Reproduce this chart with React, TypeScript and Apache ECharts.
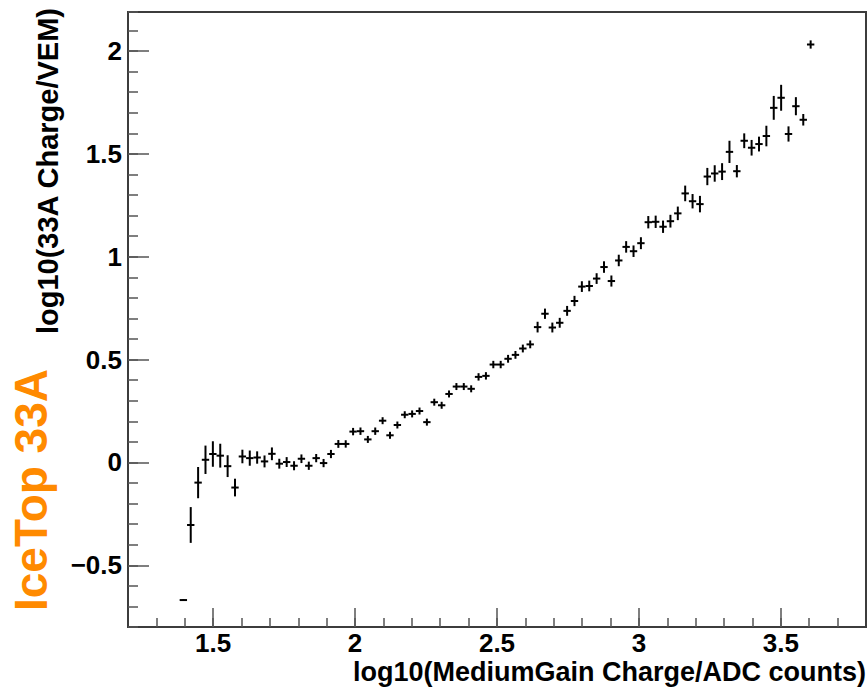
import React, { useEffect, useRef } from "react";
import * as echarts from "echarts";

// Histogram bin centres (bin width 0.026) in log10(MediumGain Charge/ADC counts)
const binCenters = [
  1.395, 1.421, 1.447, 1.473, 1.499, 1.525, 1.551, 1.577, 1.603, 1.629,
  1.655, 1.681, 1.707, 1.733, 1.759, 1.785, 1.811, 1.837, 1.863, 1.889,
  1.915, 1.941, 1.967, 1.993, 2.019, 2.045, 2.071, 2.097, 2.123, 2.149,
  2.175, 2.201, 2.227, 2.253, 2.279, 2.305, 2.331, 2.357, 2.383, 2.409,
  2.435, 2.461, 2.487, 2.513, 2.539, 2.565, 2.591, 2.617, 2.643, 2.669,
  2.695, 2.721, 2.747, 2.773, 2.799, 2.825, 2.851, 2.877, 2.903, 2.929,
  2.955, 2.981, 3.007, 3.033, 3.059, 3.085, 3.111, 3.137, 3.163, 3.189,
  3.215, 3.241, 3.267, 3.293, 3.319, 3.345, 3.371, 3.397, 3.423, 3.449,
  3.475, 3.501, 3.527, 3.553, 3.579, 3.605,
];
const BIN_HALF_WIDTH = 0.013;

// log10(33A Charge/VEM) mean per bin
const meanValues = [
  -0.669, -0.304, -0.098, 0.013, 0.041, 0.033, -0.018, -0.122, 0.029, 0.021,
  0.024, 0.005, 0.042, -0.006, 0.002, -0.016, 0.018, -0.016, 0.021, -0.003,
  0.041, 0.09, 0.09, 0.15, 0.152, 0.112, 0.152, 0.203, 0.132, 0.182,
  0.232, 0.236, 0.25, 0.196, 0.293, 0.278, 0.333, 0.369, 0.369, 0.358,
  0.416, 0.421, 0.476, 0.476, 0.504, 0.523, 0.554, 0.574, 0.658, 0.723,
  0.656, 0.679, 0.737, 0.785, 0.855, 0.858, 0.894, 0.95, 0.882, 0.982,
  1.048, 1.027, 1.066, 1.168, 1.17, 1.146, 1.173, 1.211, 1.308, 1.27,
  1.256, 1.39, 1.405, 1.414, 1.51, 1.416, 1.564, 1.53, 1.548, 1.587,
  1.724, 1.773, 1.597, 1.732, 1.666, 2.032,
];

// error on the mean per bin
const meanErrors = [
  0.004, 0.087, 0.076, 0.069, 0.062, 0.058, 0.053, 0.043, 0.033, 0.037,
  0.03, 0.029, 0.031, 0.024, 0.024, 0.022, 0.021, 0.02, 0.02, 0.02,
  0.02, 0.019, 0.018, 0.018, 0.018, 0.017, 0.018, 0.017, 0.017, 0.017,
  0.017, 0.017, 0.017, 0.017, 0.017, 0.017, 0.017, 0.017, 0.017, 0.017,
  0.018, 0.018, 0.018, 0.018, 0.019, 0.019, 0.019, 0.019, 0.026, 0.025,
  0.024, 0.024, 0.024, 0.025, 0.026, 0.026, 0.026, 0.028, 0.027, 0.028,
  0.028, 0.028, 0.029, 0.03, 0.03, 0.03, 0.031, 0.033, 0.038, 0.035,
  0.04, 0.042, 0.04, 0.041, 0.054, 0.03, 0.036, 0.038, 0.036, 0.05,
  0.058, 0.063, 0.037, 0.044, 0.028, 0.02,
];

const xMajorTicks = [1.5, 2, 2.5, 3, 3.5];
const yMajorTicks = [-0.5, 0, 0.5, 1, 1.5, 2];

const xTitle = "log10(MediumGain Charge/ADC counts)";
const yTitle = "log10(33A Charge/VEM)";
const sideLabel = "IceTop 33A";

const FONT = "'Liberation Sans', Arial, Helvetica, sans-serif";

const fmt = (v: number) => (v < 0 ? "\u2212" + String(Math.abs(v)) : String(v));
const isMajor = (v: number, majors: number[]) =>
  majors.some((m) => Math.abs(m - v) < 1e-6);

export default function App() {
  const ref = useRef<HTMLDivElement>(null);

  useEffect(() => {
    if (!ref.current) return;
    const chart = echarts.init(ref.current, undefined, { renderer: "svg" });

    const data = binCenters.map((x, i) => [x, meanValues[i], meanErrors[i]]);

    const tickStyle = { color: "#555", width: 1.5 };
    const labelStyle = {
      color: "#000",
      fontSize: 26,
      fontWeight: "bold",
      fontFamily: FONT,
    };

    const option: any = {
      animation: false,
      backgroundColor: "#ffffff",
      grid: {
        left: 128,
        right: 2,
        top: 12,
        bottom: 60,
        show: true,
        borderColor: "#3c3c3c",
        borderWidth: 2,
        backgroundColor: "transparent",
      },
      xAxis: [
        {
          type: "value",
          position: "bottom",
          min: 1.2,
          max: 3.8,
          interval: 0.1,
          axisLine: { show: false, onZero: false },
          axisTick: { show: true, inside: true, length: 9, lineStyle: tickStyle },
          axisLabel: {
            show: true,
            margin: 3,
            hideOverlap: false,
            showMinLabel: false,
            showMaxLabel: false,
            formatter: (v: number) => (isMajor(v, xMajorTicks) ? fmt(Math.round(v * 10) / 10) : ""),
            ...labelStyle,
          },
          splitLine: { show: false },
        },
        {
          type: "value",
          position: "bottom",
          min: 1.2,
          max: 3.8,
          axisLine: { show: false, onZero: false },
          axisTick: {
            show: true,
            inside: true,
            length: 19,
            customValues: xMajorTicks,
            lineStyle: tickStyle,
          },
          axisLabel: { show: false },
          splitLine: { show: false },
        },
      ],
      yAxis: [
        {
          type: "value",
          position: "left",
          min: -0.8,
          max: 2.19,
          interval: 0.1,
          axisLine: { show: false, onZero: false },
          axisTick: { show: true, inside: true, length: 10, lineStyle: tickStyle },
          axisLabel: { show: false },
          splitLine: { show: false },
        },
        {
          type: "value",
          position: "left",
          min: -0.8,
          max: 2.19,
          axisLine: { show: false, onZero: false },
          axisTick: {
            show: true,
            inside: true,
            length: 21,
            customValues: yMajorTicks,
            lineStyle: tickStyle,
          },
          axisLabel: {
            show: true,
            customValues: yMajorTicks,
            formatter: fmt,
            margin: 6,
            ...labelStyle,
          },
          splitLine: { show: false },
        },
      ],
      series: [
        {
          type: "custom",
          xAxisIndex: 0,
          yAxisIndex: 0,
          data,
          renderItem: (params: any, api: any) => {
            const x = api.value(0);
            const y = api.value(1);
            const e = api.value(2);
            const left = api.coord([x - BIN_HALF_WIDTH, y]);
            const right = api.coord([x + BIN_HALF_WIDTH, y]);
            const top = api.coord([x, y + e]);
            const bottom = api.coord([x, y - e]);
            const style = { stroke: "#000", lineWidth: 2 };
            return {
              type: "group",
              children: [
                {
                  type: "line",
                  shape: { x1: left[0], y1: left[1], x2: right[0], y2: right[1] },
                  style,
                },
                {
                  type: "line",
                  shape: { x1: top[0], y1: top[1], x2: bottom[0], y2: bottom[1] },
                  style,
                },
              ],
            };
          },
        },
      ],
      graphic: [
        {
          type: "text",
          x: 866,
          y: 672,
          style: {
            text: xTitle,
            align: "right",
            verticalAlign: "middle",
            fill: "#000",
            font: `bold 27px ${FONT}`,
          },
        },
        {
          type: "text",
          x: 48,
          y: 8,
          rotation: Math.PI / 2,
          style: {
            text: yTitle,
            align: "right",
            verticalAlign: "middle",
            fill: "#000",
            font: `bold 29px ${FONT}`,
          },
        },
        {
          type: "text",
          x: 31,
          y: 490,
          rotation: Math.PI / 2,
          style: {
            text: sideLabel,
            align: "center",
            verticalAlign: "middle",
            fill: "#ff8a00",
            font: `bold 46px ${FONT}`,
          },
        },
      ],
    };

    chart.setOption(option);
    return () => chart.dispose();
  }, []);

  return (
    <div
      ref={ref}
      style={{ position: "absolute", left: 0, top: 0, width: 868, height: 687 }}
    />
  );
}
